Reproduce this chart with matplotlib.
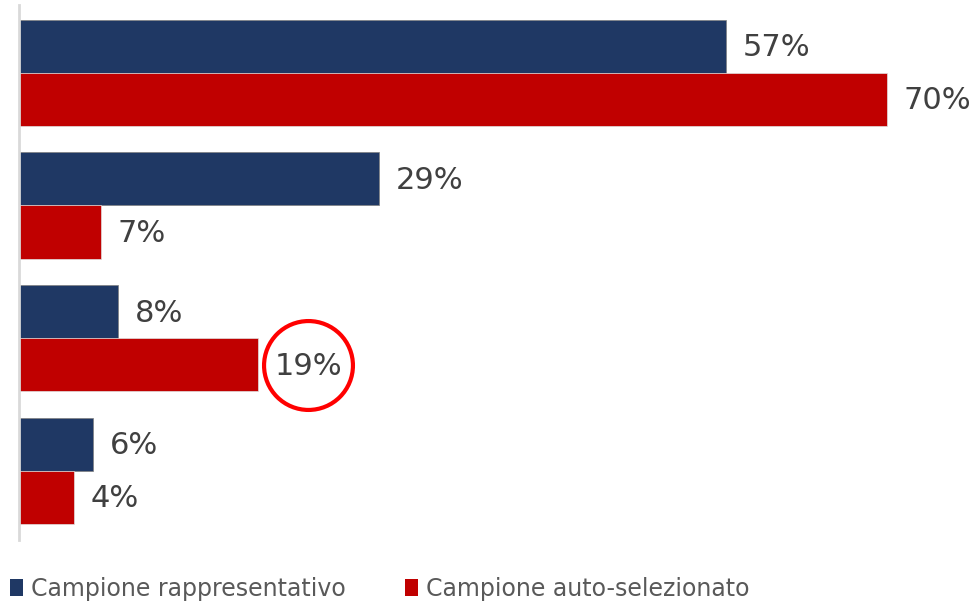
import matplotlib
matplotlib.use("Agg")
import matplotlib.pyplot as plt
import numpy as np
from matplotlib.patches import Patch

categories = ["A", "B", "C", "D"]
rappresentativo = [57, 29, 8, 6]
auto_selezionato = [70, 6.6, 19.3, 4.4]
series_names = ["Campione rappresentativo", "Campione auto-selezionato"]
highlight_index = 2

plt.rcParams['font.family'] = ['DejaVu Sans']
W, H = 973, 603
fig = plt.figure(figsize=(W/100, H/100), dpi=100)
ax = fig.add_axes([19/W, 1-540/H, (W-19)/W, 535/H])

blue = "#1F3864"
red = "#C00000"
bh = 0.4
y = np.arange(len(categories))
ax.barh(y - bh/2, rappresentativo, height=bh, color=blue, edgecolor="#7f7f7f", linewidth=0.5)
ax.barh(y + bh/2, auto_selezionato, height=bh, color=red, edgecolor="#e0e0e0", linewidth=0.5)

ax.set_xlim(0, (W-19)/12.4)
ax.set_ylim(3.52, -0.51)

def fmt(v):
    return f"{int(v + 0.5)}%"

for i in range(len(categories)):
    ax.annotate(fmt(rappresentativo[i]), (rappresentativo[i], y[i]-bh/2), xytext=(12, -1),
                textcoords="offset points", va="center", ha="left", fontsize=22, color="#404040")
    ax.annotate(fmt(auto_selezionato[i]), (auto_selezionato[i], y[i]+bh/2), xytext=(12, -1),
                textcoords="offset points", va="center", ha="left", fontsize=22, color="#404040")

# highlight circle
ax.plot([auto_selezionato[highlight_index] + 4.0], [y[highlight_index] + bh/2], marker='o',
        markersize=64, markerfacecolor='none', markeredgecolor='#FF0000', markeredgewidth=3,
        clip_on=False)

for s in ["top", "right", "bottom"]:
    ax.spines[s].set_visible(False)
ax.spines["left"].set_color("#d9d9d9")
ax.spines["left"].set_linewidth(2)
ax.set_xticks([])
ax.set_yticks([])

handles = [Patch(facecolor=blue), Patch(facecolor=red)]
fig.legend(handles, series_names, loc="center left", bbox_to_anchor=(3/W, 1-589/H),
           ncol=2, frameon=False, fontsize=17, labelcolor="#595959",
           handlelength=0.55, handleheight=0.7, handletextpad=0.35, columnspacing=2.5,
           borderaxespad=0, borderpad=0.3)

fig.savefig("out.png", dpi=100)
